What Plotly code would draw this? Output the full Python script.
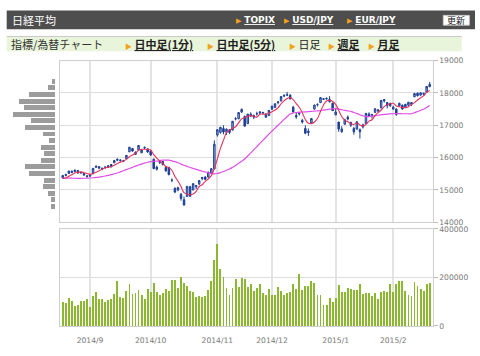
import plotly.graph_objects as go

# ---------------- data ----------------
dates = [
    "2014-08-19","2014-08-20","2014-08-21","2014-08-22","2014-08-25","2014-08-26","2014-08-27","2014-08-28","2014-08-29",
    "2014-09-01","2014-09-02","2014-09-03","2014-09-04","2014-09-05","2014-09-08","2014-09-09","2014-09-10","2014-09-11","2014-09-12",
    "2014-09-16","2014-09-17","2014-09-18","2014-09-19","2014-09-22","2014-09-24","2014-09-25","2014-09-26","2014-09-29","2014-09-30",
    "2014-10-01","2014-10-02","2014-10-03","2014-10-06","2014-10-07","2014-10-08","2014-10-09","2014-10-10","2014-10-14","2014-10-15",
    "2014-10-16","2014-10-17","2014-10-20","2014-10-21","2014-10-22","2014-10-23","2014-10-24","2014-10-27","2014-10-28","2014-10-29",
    "2014-10-30","2014-10-31",
    "2014-11-04","2014-11-05","2014-11-06","2014-11-07","2014-11-10","2014-11-11","2014-11-12","2014-11-13","2014-11-14","2014-11-17",
    "2014-11-18","2014-11-19","2014-11-20","2014-11-21","2014-11-25","2014-11-26","2014-11-27","2014-11-28",
    "2014-12-01","2014-12-02","2014-12-03","2014-12-04","2014-12-05","2014-12-08","2014-12-09","2014-12-10","2014-12-11","2014-12-12",
    "2014-12-15","2014-12-16","2014-12-17","2014-12-18","2014-12-19","2014-12-22","2014-12-24","2014-12-25","2014-12-26","2014-12-29",
    "2014-12-30",
    "2015-01-05","2015-01-06","2015-01-07","2015-01-08","2015-01-09","2015-01-13","2015-01-14","2015-01-15","2015-01-16","2015-01-19",
    "2015-01-20","2015-01-21","2015-01-22","2015-01-23","2015-01-26","2015-01-27","2015-01-28","2015-01-29","2015-01-30",
    "2015-02-02","2015-02-03","2015-02-04","2015-02-05","2015-02-06","2015-02-09","2015-02-10","2015-02-12","2015-02-13","2015-02-16",
    "2015-02-17","2015-02-18","2015-02-19",
]

opens = [
    15370,15480,15510,15580,15570,15600,15540,15510,15430,
    15430,15500,15700,15720,15640,15700,15700,15720,15840,15920,
    15930,15900,15970,16180,16280,16100,16240,16150,16320,16270,
    16200,15950,15640,15850,15880,15700,15700,15300,15050,15000,
    14870,14700,14800,15100,15000,15100,15190,15350,15400,15400,
    15520,15650,
    16700,16780,16900,16780,16860,16850,17200,17200,17410,17270,
    17050,17340,17250,17350,17380,17400,17330,17300,
    17500,17550,17700,17750,17900,17940,17930,17560,17300,17350,
    17150,16900,16770,17070,17500,17640,17700,17800,17830,17800,
    17680,
    17320,17100,16800,17030,17250,17000,16900,16880,16800,16950,
    17050,17350,17300,17400,17440,17540,17750,17700,17600,
    17500,17500,17600,17620,17570,17620,17700,17880,17990,17930,
    17960,18020,18190,
]
highs = [
    15455,15500,15590,15600,15630,15620,15570,15530,15460,
    15490,15680,15760,15740,15690,15730,15770,15800,15930,15970,
    15950,15930,16080,16330,16300,16190,16380,16260,16340,16280,
    16230,15970,15750,15900,15890,15720,15710,15360,15080,15100,
    14900,14800,15120,15130,15200,15150,15300,15400,15420,15560,
    15670,16530,
    16880,16950,17000,16900,16880,17130,17250,17400,17520,17300,
    17350,17400,17330,17420,17440,17410,17380,17470,
    17600,17680,17750,17900,17960,18030,17960,17600,17400,17400,
    17200,17000,16900,17220,17640,17680,17860,17840,17860,17900,
    17700,
    17540,17100,16970,17200,17300,17110,16950,17120,16900,17050,
    17380,17400,17350,17520,17500,17780,17800,17720,17700,
    17600,17520,17700,17640,17660,17720,17720,18000,18010,18010,
    18000,18210,18340,
]
lows = [
    15360,15420,15500,15520,15540,15510,15500,15440,15380,
    15400,15490,15680,15640,15610,15650,15690,15700,15830,15890,
    15870,15860,15960,16170,16180,16080,16230,16140,16260,16150,
    16050,15640,15600,15800,15760,15560,15450,15240,14900,14960,
    14670,14530,14800,14800,14990,15030,15150,15300,15300,15380,
    15500,15640,
    16650,16740,16720,16700,16730,16840,17150,17190,17380,16970,
    17040,17250,17190,17300,17350,17330,17240,17290,
    17470,17540,17650,17740,17870,17900,17800,17400,17200,17300,
    17050,16720,16670,17050,17480,17580,17690,17790,17790,17700,
    17440,
    17310,16800,16770,17020,17150,16950,16710,16870,16590,16900,
    17040,17250,17200,17380,17400,17520,17700,17520,17570,
    17480,17290,17590,17480,17550,17600,17600,17870,17890,17920,
    17920,18010,18180,
]
closes = [
    15449,15454,15586,15539,15613,15521,15534,15459,15424,
    15476,15668,15728,15676,15668,15705,15749,15788,15909,15948,
    15911,15888,16067,16321,16205,16167,16374,16229,16310,16173,
    16082,15661,15708,15890,15783,15595,15478,15300,14936,15073,
    14738,14532,15111,14804,15195,15138,15291,15388,15329,15553,
    15658,16413,
    16862,16937,16792,16880,16780,17124,17197,17392,17490,16973,
    17344,17288,17300,17357,17407,17383,17248,17459,
    17590,17663,17720,17887,17920,17935,17813,17412,17257,17371,
    17099,16755,16819,17210,17621,17635,17854,17818,17818,17729,
    17451,
    17408,16883,16885,17167,17197,17087,16796,17108,16864,17014,
    17366,17280,17329,17511,17468,17768,17795,17606,17674,
    17558,17335,17678,17504,17648,17711,17652,17979,17913,18004,
    17987,18199,18264,
]
ma_short = [
    15360,15371,15426,15470,15528,15543,15559,15533,15510,
    15483,15512,15551,15594,15643,15689,15705,15717,15764,15820,
    15861,15889,15945,16027,16078,16130,16227,16259,16257,16251,
    16234,16091,15987,15903,15825,15727,15691,15609,15418,15276,
    15105,14916,14878,14852,14876,14956,15108,15163,15268,15340,
    15444,15668,
    15963,16285,16532,16777,16850,16903,16955,17075,17197,17235,
    17279,17297,17279,17252,17339,17347,17339,17371,
    17417,17469,17536,17664,17756,17825,17855,17793,17667,17558,
    17390,17179,17060,17051,17101,17208,17428,17628,17749,17771,
    17734,
    17645,17458,17271,17159,17108,17044,17026,17071,17010,16974,
    17030,17126,17171,17300,17391,17471,17574,17630,17662,
    17680,17594,17570,17550,17545,17575,17639,17699,17781,17852,
    17907,18016,18073,
]
ma_long = [
    15370,15368,15366,15364,15362,15360,15360,15362,15365,
    15370,15378,15388,15400,15415,15432,15452,15475,15500,15525,
    15560,15594,15630,15665,15700,15738,15770,15800,15830,15857,
    15879,15886,15892,15908,15923,15925,15921,15900,15874,15840,
    15800,15763,15730,15695,15665,15635,15606,15580,15555,15530,
    15510,15495,
    15510,15540,15570,15610,15647,15700,15760,15825,15890,15955,
    16050,16145,16245,16340,16440,16535,16630,16725,
    16820,16912,17000,17090,17180,17265,17350,17380,17395,17405,
    17410,17415,17420,17428,17437,17445,17454,17470,17485,17498,
    17508,
    17515,17500,17480,17462,17445,17430,17395,17360,17325,17290,
    17265,17270,17282,17296,17310,17323,17335,17345,17352,
    17356,17357,17357,17356,17355,17355,17355,17390,17425,17460,
    17495,17550,17609,
]
volumes = [
    97000,93000,117000,104000,81000,88000,104000,101000,112000,
    77000,125000,139000,112000,109000,97000,107000,111000,133000,185000,
    121000,116000,144000,173000,131000,135000,148000,129000,109000,153000,
    139000,177000,141000,129000,135000,152000,144000,188000,188000,155000,
    201000,179000,163000,144000,139000,121000,125000,121000,125000,149000,
    185000,271000,
    337000,235000,201000,155000,128000,155000,195000,160000,199000,192000,
    160000,171000,145000,157000,171000,137000,129000,151000,
    127000,127000,160000,143000,129000,135000,139000,171000,152000,215000,
    149000,163000,163000,187000,176000,129000,127000,88000,88000,116000,
    99000,
    117000,168000,141000,141000,157000,151000,149000,149000,173000,131000,
    136000,137000,125000,136000,113000,140000,144000,141000,173000,
    138000,171000,187000,187000,143000,129000,124000,181000,163000,153000,
    143000,173000,176000,
]
month_labels = ["2014/9", "2014/10", "2014/11", "2014/12", "2015/1", "2015/2"]
month_first_days = ["2014-09-01", "2014-10-01", "2014-11-04", "2014-12-01", "2015-01-05", "2015-02-02"]
price_ticks = [14000, 15000, 16000, 17000, 18000, 19000]
volume_ticks = [0, 200000, 400000]
profile_prices = [14500, 14700, 14900, 15100, 15300, 15500, 15700, 15900, 16100, 16300,
                  16500, 16700, 16900, 17100, 17300, 17500, 17700, 17900, 18100, 18300]
profile_volume = [40, 40, 67, 117, 110, 260, 297, 137, 110, 137,
                  57, 123, 303, 240, 420, 310, 360, 260, 67, 33]

header_title = "日経平均"
header_links = ["TOPIX", "USD/JPY", "EUR/JPY"]
update_label = "更新"
sub_title = "指標/為替チャート"
sub_links = ["日中足(1分)", "日中足(5分)", "日足", "週足", "月足"]
sub_links_active = [True, True, False, True, True]

# ---------------- helpers ----------------
W, H = 480, 356
def fx(px):
    return px / W
def fy(py):
    return 1 - py / H

xi = list(range(len(dates)))
tick_pos = [dates.index(d) for d in month_first_days]

TICKFONT = dict(family="DejaVu Sans", size=7.6, color="#777777")
GRID_X = "#e3e3e3"
GRID_Y = "#dddddd"
FRAME = "#cfcfcf"

fig = go.Figure()

# volume-at-price profile
fig.add_trace(go.Bar(
    x=profile_volume, y=profile_prices, orientation="h",
    xaxis="x3", yaxis="y3", width=150,
    marker=dict(color="#9c9c9c", line=dict(width=0)),
    hoverinfo="skip",
))

# candlesticks
fig.add_trace(go.Candlestick(
    x=xi, open=opens, high=highs, low=lows, close=closes,
    xaxis="x", yaxis="y",
    increasing=dict(fillcolor="#9fb5e0", line=dict(color="#1d3f94", width=1)),
    decreasing=dict(fillcolor="#1d3f94", line=dict(color="#1d3f94", width=1)),
    whiskerwidth=0, hoverinfo="skip",
))
fig.add_trace(go.Scatter(
    x=xi, y=ma_long, mode="lines", xaxis="x", yaxis="y",
    line=dict(color="#e050e8", width=1.2, shape="spline"), hoverinfo="skip",
))
fig.add_trace(go.Scatter(
    x=xi, y=ma_short, mode="lines", xaxis="x", yaxis="y",
    line=dict(color="#e8305a", width=1.1, shape="spline"), hoverinfo="skip",
))

# volume bars
fig.add_trace(go.Bar(
    x=xi, y=volumes, xaxis="x2", yaxis="y2", width=0.62,
    marker=dict(color="#8cb730", line=dict(width=0)), hoverinfo="skip",
))

x_range = [-0.9, len(dates)]
common_x = dict(
    range=x_range, tickmode="array", tickvals=tick_pos,
    showgrid=True, gridcolor=GRID_X, gridwidth=2,
    showline=True, linecolor=FRAME, linewidth=1, mirror=True,
    zeroline=False, ticks="", fixedrange=True,
)

fig.update_layout(
    width=W, height=H,
    margin=dict(l=0, r=0, t=0, b=0),
    paper_bgcolor="white", plot_bgcolor="white",
    showlegend=False, bargap=0, hovermode=False,
    xaxis=dict(domain=[fx(60), fx(432.7)], anchor="y", showticklabels=False,
               rangeslider=dict(visible=False), **common_x),
    yaxis=dict(domain=[fy(224), fy(58)], anchor="x", side="right", range=[14000, 19000],
               tickmode="array", tickvals=price_ticks, ticktext=[str(v) for v in price_ticks],
               showgrid=True, gridcolor=GRID_Y, gridwidth=1,
               showline=True, linecolor=FRAME, mirror=True, zeroline=False,
               ticks="outside", ticklen=4, tickcolor="#bbbbbb", tickfont=TICKFONT, fixedrange=True),
    xaxis2=dict(domain=[fx(60), fx(432.7)], anchor="y2", showticklabels=True,
                ticktext=month_labels, tickfont=TICKFONT, ticklabelstandoff=7, **common_x),
    yaxis2=dict(domain=[fy(330.3), fy(230.7)], anchor="x2", side="right", range=[0, 400000],
                tickmode="array", tickvals=volume_ticks, ticktext=[str(v) for v in volume_ticks],
                showgrid=True, gridcolor=GRID_Y, gridwidth=1,
                showline=True, linecolor=FRAME, mirror=True, zeroline=False,
                ticks="outside", ticklen=4, tickcolor="#bbbbbb", tickfont=TICKFONT, fixedrange=True),
    xaxis3=dict(domain=[0, fx(55)], anchor="y3", range=[550, 0], visible=False, fixedrange=True),
    yaxis3=dict(domain=[fy(224), fy(58)], anchor="x3", range=[14018, 18930], visible=False, fixedrange=True),
)

# ---------------- header bars ----------------
shapes = [
    dict(type="rect", xref="paper", yref="paper", x0=fx(6.7), x1=fx(475), y0=fy(26), y1=fy(6.7),
         fillcolor="#4e4e4e", line=dict(width=0), layer="below"),
    dict(type="rect", xref="paper", yref="paper", x0=fx(443.3), x1=fx(469.3), y0=fy(21.7), y1=fy(11.7),
         fillcolor="#ffffff", line=dict(color="#cccccc", width=1)),
    dict(type="rect", xref="paper", yref="paper", x0=fx(6.7), x1=fx(461.7), y0=fy(48.5), y1=fy(33.3),
         fillcolor="#e9f5da", line=dict(width=0), layer="below"),
    dict(type="line", xref="paper", yref="paper", x0=fx(6.7), x1=fx(461.7), y0=fy(33.3), y1=fy(33.3),
         line=dict(color="#c8c8c8", width=1)),
]
fig.update_layout(shapes=shapes)

BUL = '<span style="color:#f5a21b;font-size:7px">▶</span>'
annotations = [
    dict(x=fx(9.5), y=fy(16.7), text=header_title,
         font=dict(family="Noto Sans CJK JP", size=11, color="white")),
    dict(x=fx(456.3), y=fy(16.7), text=update_label, xanchor="center",
         font=dict(family="Noto Sans CJK JP", size=9, color="#222222")),
    dict(x=fx(9.3), y=fy(41.3), text=sub_title,
         font=dict(family="Noto Sans CJK JP", size=11, color="#333333")),
]
for label, xb in zip(header_links, [233.5, 281.5, 345]):
    annotations.append(dict(x=fx(xb), y=fy(16.9), text=BUL + " <b><u>" + label + "</u></b>",
                            font=dict(family="DejaVu Sans", size=9, color="white")))
for label, act, xb in zip(sub_links, sub_links_active, [123, 205, 286.5, 326, 366]):
    t = "<b><u>" + label + "</u></b>" if act else label
    annotations.append(dict(x=fx(xb), y=fy(41.3), text=BUL + " " + t,
                            font=dict(family="Noto Sans CJK JP", size=11, color="#222222")))
for a in annotations:
    a.setdefault("xanchor", "left")
    a.update(xref="paper", yref="paper", yanchor="middle", showarrow=False)
fig.update_layout(annotations=annotations)

fig.write_html(
    "out.html",
    config={"displayModeBar": False, "staticPlot": True},
    post_script="document.documentElement.style.margin='0';document.body.style.margin='0';document.body.style.overflow='hidden';",
)
